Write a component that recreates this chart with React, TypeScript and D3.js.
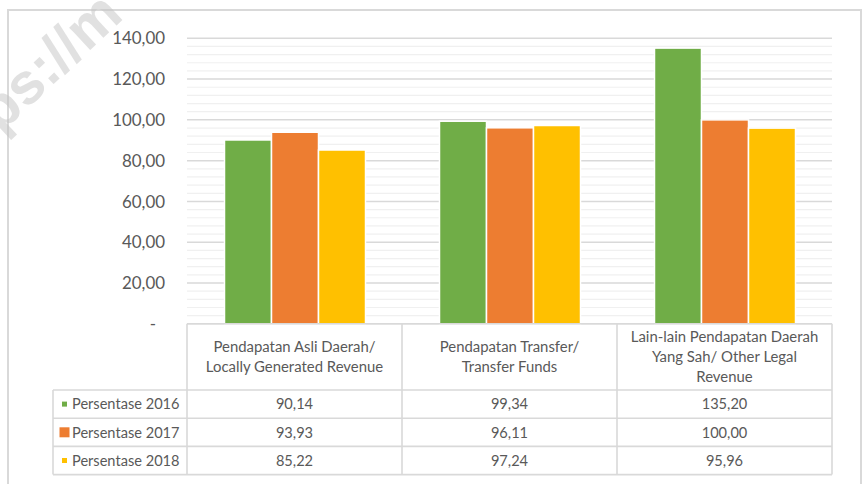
import React from "react";
import * as d3 from "d3";

const categories: string[][] = [
  ["Pendapatan Asli Daerah/", "Locally Generated Revenue"],
  ["Pendapatan Transfer/", "Transfer Funds"],
  ["Lain-lain Pendapatan Daerah", "Yang Sah/ Other Legal", "Revenue"],
];
const seriesNames = ["Persentase 2016", "Persentase 2017", "Persentase 2018"];
const values2016 = [90.14, 99.34, 135.2];
const values2017 = [93.93, 96.11, 100.0];
const values2018 = [85.22, 97.24, 95.96];
const yTicks = [0, 20, 40, 60, 80, 100, 120, 140];
const colors = ["#70AD47", "#ED7D31", "#FFC000"];
const markerSizes = [5, 10, 5];

const series = [values2016, values2017, values2018];

const locale = d3.formatLocale({
  decimal: ",",
  thousands: ".",
  grouping: [3],
  currency: ["", ""],
});
const fmt = locale.format(".2f");
const tickFmt = (v: number) => (v === 0 ? "-" : fmt(v));

const FONT = "Lato, 'Open Sans', sans-serif";
const TEXT = "#595959";
const GRID = "#d9d9d9";
const MINOR = "#f0f0f0";

export default function App() {
  const W = 864;
  const H = 484;
  const plotLeft = 187;
  const plotRight = 832;
  const y = d3.scaleLinear().domain([0, 140]).range([323.8, 38.3]);
  const x0 = d3
    .scaleBand<number>()
    .domain(categories.map((_, i) => i))
    .range([plotLeft, plotRight]);
  const bw = x0.bandwidth();
  const x1 = d3
    .scaleBand<number>()
    .domain(seriesNames.map((_, i) => i))
    .range([37.5, bw - 36.5]);

  const minorTicks = d3.range(0, 140.001, 4).filter((v) => v % 20 !== 0);

  const headerTop = y(0);
  const headerBottom = 390;
  const rowH = 28.2;
  const rowTops = seriesNames.map((_, i) => headerBottom + i * rowH);
  const tableBottom = headerBottom + seriesNames.length * rowH;
  const legendLeft = 53;
  const colEdges = [plotLeft, ...categories.map((_, i) => (x0(i) as number) + bw)];

  return (
    <svg
      width={W}
      height={H}
      style={{ position: "absolute", left: 0, top: 0, background: "#fff" }}
      fontFamily={FONT}
    >
      <rect x={0} y={0} width={W} height={H} fill="#fff" />
      {/* outer chart border */}
      <rect x={8} y={10} width={853} height={490} fill="none" stroke={GRID} strokeWidth={2} />

      {/* minor gridlines */}
      {minorTicks.map((t) => (
        <line key={"m" + t} x1={plotLeft} x2={plotRight} y1={y(t)} y2={y(t)} stroke={MINOR} strokeWidth={1.2} />
      ))}
      {/* major gridlines */}
      {yTicks.map((t) => (
        <line key={"g" + t} x1={plotLeft} x2={plotRight} y1={y(t)} y2={y(t)} stroke={GRID} strokeWidth={1.5} />
      ))}
      {/* y tick labels */}
      {yTicks.map((t) => (
        <text
          key={"t" + t}
          x={t === 0 ? 156 : 165}
          y={y(t)}
          dy="0.36em"
          textAnchor="end"
          fontSize={16.9}
          fill={TEXT}
        >
          {tickFmt(t)}
        </text>
      ))}

      {/* bars */}
      {series.map((vals, s) =>
        vals.map((v, c) => (
          <rect
            key={`b${s}-${c}`}
            x={(x0(c) as number) + (x1(s) as number)}
            y={y(v)}
            width={x1.bandwidth()}
            height={y(0) - y(v)}
            fill={colors[s]}
            stroke="#fff"
            strokeWidth={1.5}
          />
        ))
      )}

      {/* data table */}
      <g stroke={GRID} strokeWidth={1.6} fill="none">
        <line x1={plotLeft} x2={plotRight} y1={headerTop} y2={headerTop} />
        <line x1={legendLeft} x2={plotRight} y1={headerBottom} y2={headerBottom} />
        {rowTops.slice(1).map((r, i) => (
          <line key={"r" + i} x1={legendLeft} x2={plotRight} y1={r} y2={r} />
        ))}
        <line x1={legendLeft} x2={plotRight} y1={tableBottom} y2={tableBottom} />
        <line x1={legendLeft} x2={legendLeft} y1={headerBottom} y2={tableBottom} />
        {colEdges.map((cx, i) => (
          <line key={"c" + i} x1={cx} x2={cx} y1={headerTop} y2={tableBottom} />
        ))}
      </g>

      {/* header texts */}
      {categories.map((lines, c) => {
        const cx = (x0(c) as number) + bw / 2;
        const cy = (headerTop + headerBottom) / 2;
        const lh = 19.8;
        return (
          <text key={"h" + c} textAnchor="middle" fontSize={14.9} fill={TEXT}>
            {lines.map((ln, i) => (
              <tspan key={i} x={cx} y={cy - ((lines.length - 1) * lh) / 2 + i * lh} dy="0.36em">
                {ln}
              </tspan>
            ))}
          </text>
        );
      })}

      {/* rows */}
      {seriesNames.map((name, s) => {
        const cy = rowTops[s] + rowH / 2;
        const ms = markerSizes[s];
        return (
          <g key={"row" + s}>
            <rect x={64.5 - ms / 2} y={cy - ms / 2} width={ms} height={ms} fill={colors[s]} />
            <text x={72} y={cy} dy="0.36em" fontSize={14.6} fill={TEXT}>
              {name}
            </text>
            {series[s].map((v, c) => (
              <text
                key={"v" + c}
                x={(x0(c) as number) + bw / 2}
                y={cy}
                dy="0.36em"
                textAnchor="middle"
                fontSize={14.6}
                fill={TEXT}
              >
                {fmt(v)}
              </text>
            ))}
          </g>
        );
      })}

      {/* watermark */}
      <text
        transform="translate(0,134) rotate(-43)"
        fontSize={58}
        fontWeight="bold"
        fill="#c4c4c4"
        opacity={0.5}
        fontFamily="'Liberation Sans', Arial, sans-serif"
      >
        ps://m
      </text>
    </svg>
  );
}
